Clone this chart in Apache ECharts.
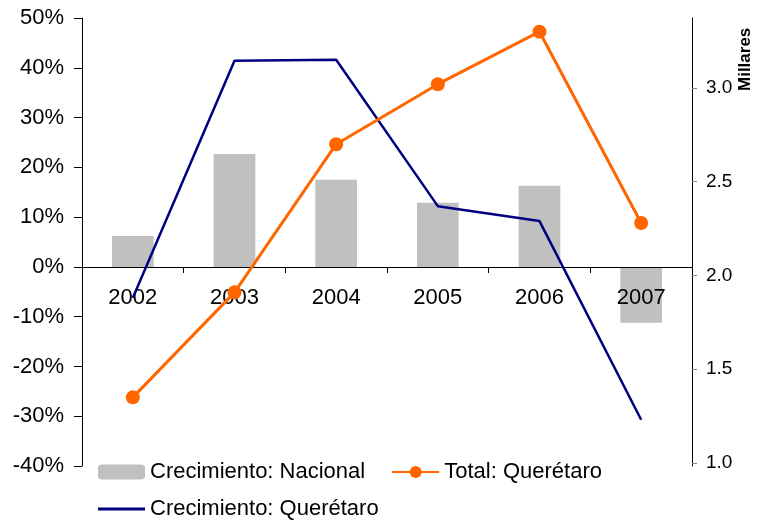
<!DOCTYPE html>
<html>
<head>
<meta charset="utf-8">
<script src="https://cdn.jsdelivr.net/npm/echarts@6/dist/echarts.min.js"></script>
<style>
html, body { margin: 0; padding: 0; background: #fff; }
#chart { width: 764px; height: 521px; }
</style>
</head>
<body>
<div id="chart"></div>
<script>
// datos
var years = ['2002', '2003', '2004', '2005', '2006', '2007'];
var crecNacional = [6.2, 22.7, 17.5, 12.9, 16.3, -11.2];     // %
var crecQueretaro = [-6.2, 41.4, 41.6, 12.2, 9.2, -30.7];    // %
var totalQueretaro = [1.35, 1.91, 2.70, 3.02, 3.30, 2.28];   // millares
var rightTicks = [1.0, 1.5, 2.0, 2.5, 3.0];

var font = 'Liberation Sans, Arial, sans-serif';
var chart = echarts.init(document.getElementById('chart'));
chart.setOption({
  animation: false,
  textStyle: { fontFamily: font },
  grid: { left: 82, right: 72, top: 18, bottom: 55 },
  legend: [{
    left: 93, top: 456,
    itemWidth: 47, itemHeight: 15, itemGap: 26,
    textStyle: { fontSize: 22, color: '#000' },
    data: ['Crecimiento: Nacional', 'Total: Querétaro']
  }, {
    left: 93, top: 493,
    itemWidth: 47, itemHeight: 3,
    icon: 'rect',
    textStyle: { fontSize: 22, color: '#000' },
    data: ['Crecimiento: Querétaro']
  }],
  xAxis: {
    type: 'category',
    data: years,
    offset: -199,
    axisLine: { onZero: false, lineStyle: { color: '#000', width: 1 } },
    axisTick: { show: true, length: 6, lineStyle: { color: '#000' } },
    axisLabel: { fontSize: 22, color: '#000', margin: 20 },
    z: 3
  },
  yAxis: [{
    type: 'value',
    min: -40, max: 50, interval: 10,
    splitLine: { show: false },
    axisLine: { show: true, lineStyle: { color: '#000' } },
    axisTick: { show: true, length: 8, lineStyle: { color: '#000' } },
    axisLabel: { fontSize: 22, color: '#000', margin: 18,
      formatter: function (v) { return v + '%'; } }
  }, {
    type: 'value',
    min: 0.984, max: 3.373,
    position: 'right',
    splitLine: { show: false },
    axisLine: { show: true, lineStyle: { color: '#000' } },
    axisTick: { show: true, length: 5, lineStyle: { color: '#888' }, customValues: rightTicks },
    axisLabel: { fontSize: 19, color: '#000', margin: 14, customValues: rightTicks,
      formatter: function (v) { return v.toFixed(1); } }
  }],
  graphic: [{
    type: 'text',
    x: 737, y: 91,
    rotation: Math.PI / 2,
    style: { text: 'Millares', fontSize: 17, fontWeight: 'bold', fill: '#000', fontFamily: font }
  }],
  series: [{
    name: 'Crecimiento: Nacional',
    type: 'bar',
    barWidth: '41%',
    itemStyle: { color: '#C0C0C0' },
    data: crecNacional
  }, {
    name: 'Crecimiento: Querétaro',
    type: 'line',
    symbol: 'none',
    z: 4,
    lineStyle: { color: '#000080', width: 2.5 },
    itemStyle: { color: '#000080' },
    data: crecQueretaro
  }, {
    name: 'Total: Querétaro',
    type: 'line',
    yAxisIndex: 1,
    symbol: 'circle',
    symbolSize: 14,
    z: 5,
    lineStyle: { color: '#FF6600', width: 3 },
    itemStyle: { color: '#FF6600' },
    data: totalQueretaro
  }]
});
</script>
</body>
</html>
